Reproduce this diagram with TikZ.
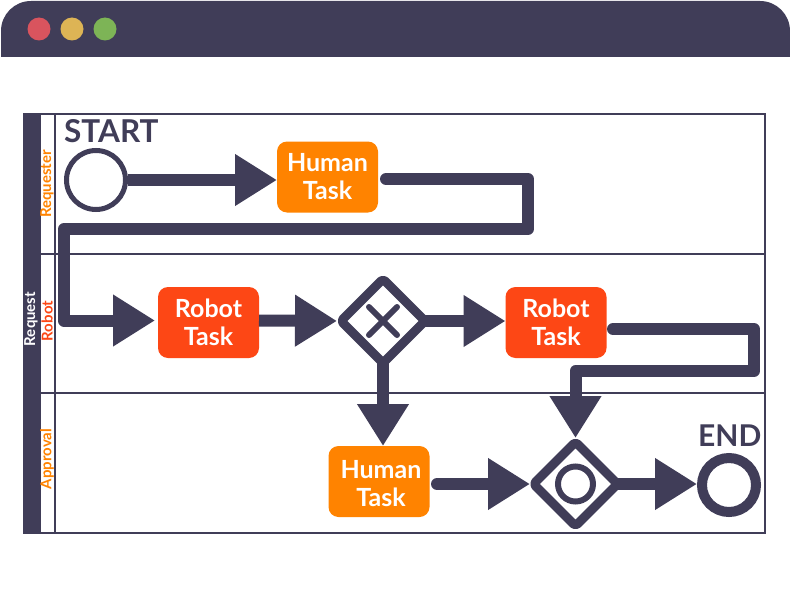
\documentclass[tikz,border=0pt]{standalone}
\usepackage{fontspec}
\setmainfont{Lato}
\usetikzlibrary{arrows.meta,shapes.geometric,calc}
\definecolor{ink}{HTML}{403D58}
\definecolor{humanc}{HTML}{FF8300}
\definecolor{robotc}{HTML}{FD4715}
\definecolor{dotr}{HTML}{D9545E}
\definecolor{doty}{HTML}{DDB455}
\definecolor{dotg}{HTML}{7DB456}
\tikzset{
  tasktext/.style={inner sep=0pt,text=white,align=center,font=\fontsize{25}{28}\selectfont\bfseries},
  task/.style={tasktext,rounded corners=10pt,minimum width=101pt,minimum height=71pt,outer sep=0pt},
  humantask/.style={task,fill=humanc},
  robottask/.style={task,fill=robotc},
  flow/.style={draw=ink,line width=12pt,line join=round,-{Triangle[length=42pt,width=49pt]}},
  roundstart/.style={line cap=round},
  gate/.style={diamond,aspect=1,draw=ink,line width=9pt,line join=round,rounded corners=3pt,minimum width=84pt,minimum height=84pt,inner sep=0pt,outer sep=0pt,fill=white},
  frameline/.style={draw=ink,line width=2pt},
  lanelabel/.style={rotate=90,font=\fontsize{15}{17}\selectfont\bfseries},
  winbtn/.style={circle,minimum size=23pt,inner sep=0pt},
  heading/.style={text=ink,font=\fontsize{31.5}{33}\selectfont\bfseries,inner sep=0pt}
}
\begin{document}
\begin{tikzpicture}[x=1pt,y=-1pt]
\useasboundingbox (0,0) rectangle (790,594);
\fill[white] (0,0) rectangle (790,594);
% window bar
\fill[ink] (1,57) {[rounded corners=30pt] -- (1,1) -- (790,1)} -- (790,57) -- cycle;
\node[winbtn,fill=dotr] (b1) at (39,29) {};
\node[winbtn,fill=doty] (b2) at (72,29) {};
\node[winbtn,fill=dotg] (b3) at (105,29) {};
% pool
\fill[ink] (23,113) rectangle (40,533);
\draw[frameline] (24,114) rectangle (765,533);
\draw[frameline] (39.5,114) -- (39.5,533);
\draw[frameline] (55,114) -- (55,533);
\draw[frameline] (40,253.5) -- (765,253.5);
\draw[frameline] (40,393) -- (765,393);
\node[lanelabel,text=white] (lreq) at (31,319) {Request};
\node[lanelabel,text=humanc] (l1) at (47,184) {Requester};
\node[lanelabel,text=robotc] (l2) at (47,321) {Robot};
\node[lanelabel,text=humanc] (l3) at (47,459) {Approval};
% headings
\node[heading,anchor=base west] (tstart) at (64,142) {START};
\node[heading,anchor=base west,font=\fontsize{30}{32}\selectfont\bfseries] (tend) at (698,446) {END};
% nodes
\node[circle,draw=ink,line width=5pt,minimum size=59pt,inner sep=0pt,outer sep=0pt] (start) at (96,180) {};
\node[humantask] (h1) at (327.5,177) {Human\\Task};
\node[robottask] (r1) at (208.5,322.5) {Robot\\Task};
\node[gate] (g1) at (383,321) {};
\node[robottask] (r2) at (556,322.5) {Robot\\Task};
\node[humantask] (h2) at (379,481.5) {};
\node[tasktext] (h2t) at (381,484) {Human\\Task};
\node[gate] (g2) at (575.5,484) {};
\node[circle,draw=ink,line width=6pt,minimum size=35pt,inner sep=0pt,outer sep=0pt] (inner) at (575.5,484) {};
\node[circle,draw=ink,line width=10pt,minimum size=54pt,inner sep=0pt,outer sep=0pt] (stop) at (729,485) {};
% X mark
\draw[ink,line width=6pt,line cap=round] (g1.center) ++(-14,-14) -- ++(28,28);
\draw[ink,line width=6pt,line cap=round] (g1.center) ++(14,-14) -- ++(-28,28);
% waypoints
\path (h1.east) ++(8,2) coordinate (a1);
\coordinate (a2) at (528,179);
\coordinate (a3) at (528,229);
\coordinate (a4) at (64,229);
\coordinate (a5) at (64,320.5);
\path (r2.east) ++(6.5,6.5) coordinate (c1);
\coordinate (c2) at (754,329);
\coordinate (c3) at (754,371);
\coordinate (c4) at (575.5,371);
\path (h2.east) ++(7.5,2.5) coordinate (d1);
% connectors
\draw[flow] (start.east) ++(2,0) -- (h1.west |- start.east);
\draw[flow,roundstart,shorten >=3pt] (a1) -- (a2) -- (a3) -- (a4) -- (a5) -- (r1.west |- a5);
\draw[flow,shorten >=4pt] (r1.east) ++(0,-2) -- (g1.west);
\draw[flow] (g1.east) -- (r2.west |- g1.east);
\draw[flow,roundstart,shorten >=4pt] (c1) -- (c2) -- (c3) -- (c4) -- (g2.north);
\draw[flow] (g1.south) -- (h2.north -| g1.south);
\draw[flow,roundstart,shorten >=3.5pt] (d1) -- (g2.west);
\draw[flow,shorten >=5pt] (g2.east) -- (stop.west |- g2.east);
\end{tikzpicture}
\end{document}
